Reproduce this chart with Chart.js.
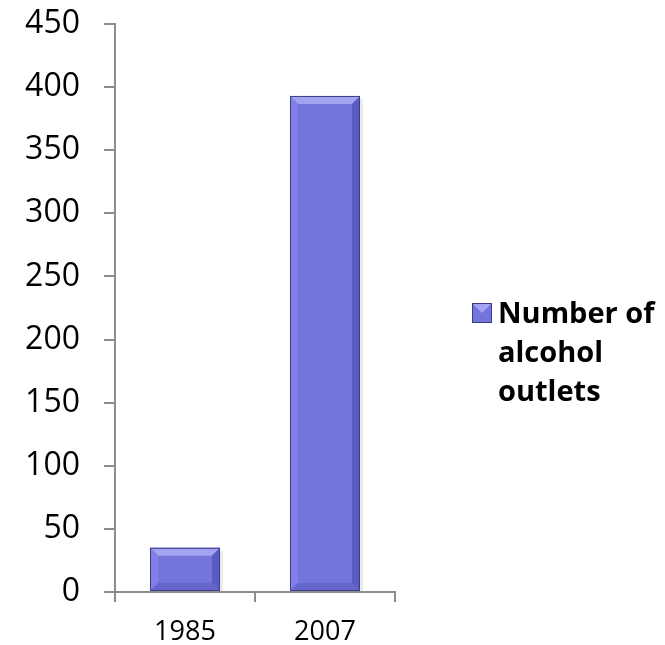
<!DOCTYPE html>
<html>
<head>
<meta charset="utf-8">
<script src="https://cdn.jsdelivr.net/npm/chart.js@4"></script>
<style>
  html, body { margin: 0; padding: 0; background: #fff; }
  #wrap { width: 665px; height: 645px; }
</style>
</head>
<body>
<div id="wrap"><canvas id="myChart" width="665" height="645"></canvas></div>
<script>
// chart data
const years = ['1985', '2007'];
const outlets = [35, 393];
const seriesName = 'Number of alcohol outlets';
const legendLines = ['Number of', 'alcohol', 'outlets'];
const yTicks = [0, 50, 100, 150, 200, 250, 300, 350, 400, 450];

const barColor = '#7474DC';
const axisColor = '#8c8c8c';

// draws the bevelled look on each bar, using the bar element geometry
const bevelBars = {
  id: 'bevelBars',
  afterDatasetsDraw(chart) {
    const ctx = chart.ctx;
    chart.getDatasetMeta(0).data.forEach(bar => {
      const l = bar.x - bar.width / 2, r = bar.x + bar.width / 2;
      const t = bar.y, b = bar.base;
      const d = Math.min(8, (b - t) / 2);
      ctx.save();
      // soft shadow on the right
      ctx.fillStyle = 'rgba(0,0,0,0.08)';
      ctx.fillRect(r, t + 3, 3, b - t - 3);
      // top bevel
      ctx.fillStyle = '#A3A3F2';
      ctx.beginPath();
      ctx.moveTo(l, t); ctx.lineTo(r, t); ctx.lineTo(r - d, t + d); ctx.lineTo(l + d, t + d);
      ctx.closePath(); ctx.fill();
      // left bevel
      ctx.fillStyle = '#8080E4';
      ctx.beginPath();
      ctx.moveTo(l, t); ctx.lineTo(l + d, t + d); ctx.lineTo(l + d, b - d); ctx.lineTo(l, b);
      ctx.closePath(); ctx.fill();
      // right bevel
      ctx.fillStyle = '#5B5BC4';
      ctx.beginPath();
      ctx.moveTo(r, t); ctx.lineTo(r - d, t + d); ctx.lineTo(r - d, b - d); ctx.lineTo(r, b);
      ctx.closePath(); ctx.fill();
      // bottom bevel
      ctx.fillStyle = '#6565CC';
      ctx.beginPath();
      ctx.moveTo(l, b); ctx.lineTo(l + d, b - d); ctx.lineTo(r - d, b - d); ctx.lineTo(r, b);
      ctx.closePath(); ctx.fill();
      // thin dark outline
      ctx.strokeStyle = '#3c3c8c';
      ctx.lineWidth = 1;
      ctx.strokeRect(l + 0.5, t + 0.5, r - l - 1, b - t - 1);
      ctx.restore();
    });
  }
};

// wrapped legend on the right side
const sideLegend = {
  id: 'sideLegend',
  afterDraw(chart) {
    const ctx = chart.ctx;
    const x = 472, y = 303;
    ctx.save();
    ctx.fillStyle = barColor;
    ctx.fillRect(x, y, 20, 20);
    ctx.fillStyle = '#A3A3F2';
    ctx.beginPath();
    ctx.moveTo(x, y); ctx.lineTo(x + 20, y); ctx.lineTo(x + 10, y + 10);
    ctx.closePath(); ctx.fill();
    ctx.strokeStyle = '#3c3c8c';
    ctx.strokeRect(x + 0.5, y + 0.5, 19, 19);
    ctx.fillStyle = '#000';
    ctx.font = 'bold 29px "Open Sans", sans-serif';
    ctx.textBaseline = 'alphabetic';
    legendLines.forEach((line, i) => {
      ctx.fillText(line, 498, 323 + i * 39);
    });
    ctx.restore();
  }
};

const ctx = document.getElementById('myChart').getContext('2d');
const myChart = new Chart(ctx, {
  type: 'bar',
  data: {
    labels: years,
    datasets: [{
      label: seriesName,
      data: outlets,
      backgroundColor: barColor,
      borderWidth: 0,
      barPercentage: 0.5,
      categoryPercentage: 1.0
    }]
  },
  options: {
    responsive: false,
    animation: false,
    layout: { padding: { top: 24, right: 270, left: 0, bottom: 0 } },
    plugins: {
      legend: { display: false },
      tooltip: { enabled: false }
    },
    scales: {
      y: {
        min: 0,
        max: 450,
        afterBuildTicks: s => { s.ticks = yTicks.map(v => ({ value: v })); },
        afterFit: s => { s.width = 115; s.paddingTop = 0; s.paddingBottom = 0; },
        border: { color: axisColor, width: 2 },
        grid: { drawOnChartArea: false, tickLength: 11, color: axisColor, lineWidth: 2 },
        ticks: { padding: 24, color: '#000', font: { family: 'Open Sans', size: 32 } }
      },
      x: {
        offset: true,
        afterFit: s => { s.height = 53; s.paddingLeft = 0; s.paddingRight = 0; },
        border: { color: axisColor, width: 2 },
        grid: { drawOnChartArea: false, offset: true, tickLength: 10, color: axisColor, lineWidth: 2 },
        ticks: { padding: 14, color: '#000', font: { family: 'Open Sans', size: 27 } }
      }
    }
  },
  plugins: [bevelBars, sideLegend]
});
</script>
</body>
</html>
